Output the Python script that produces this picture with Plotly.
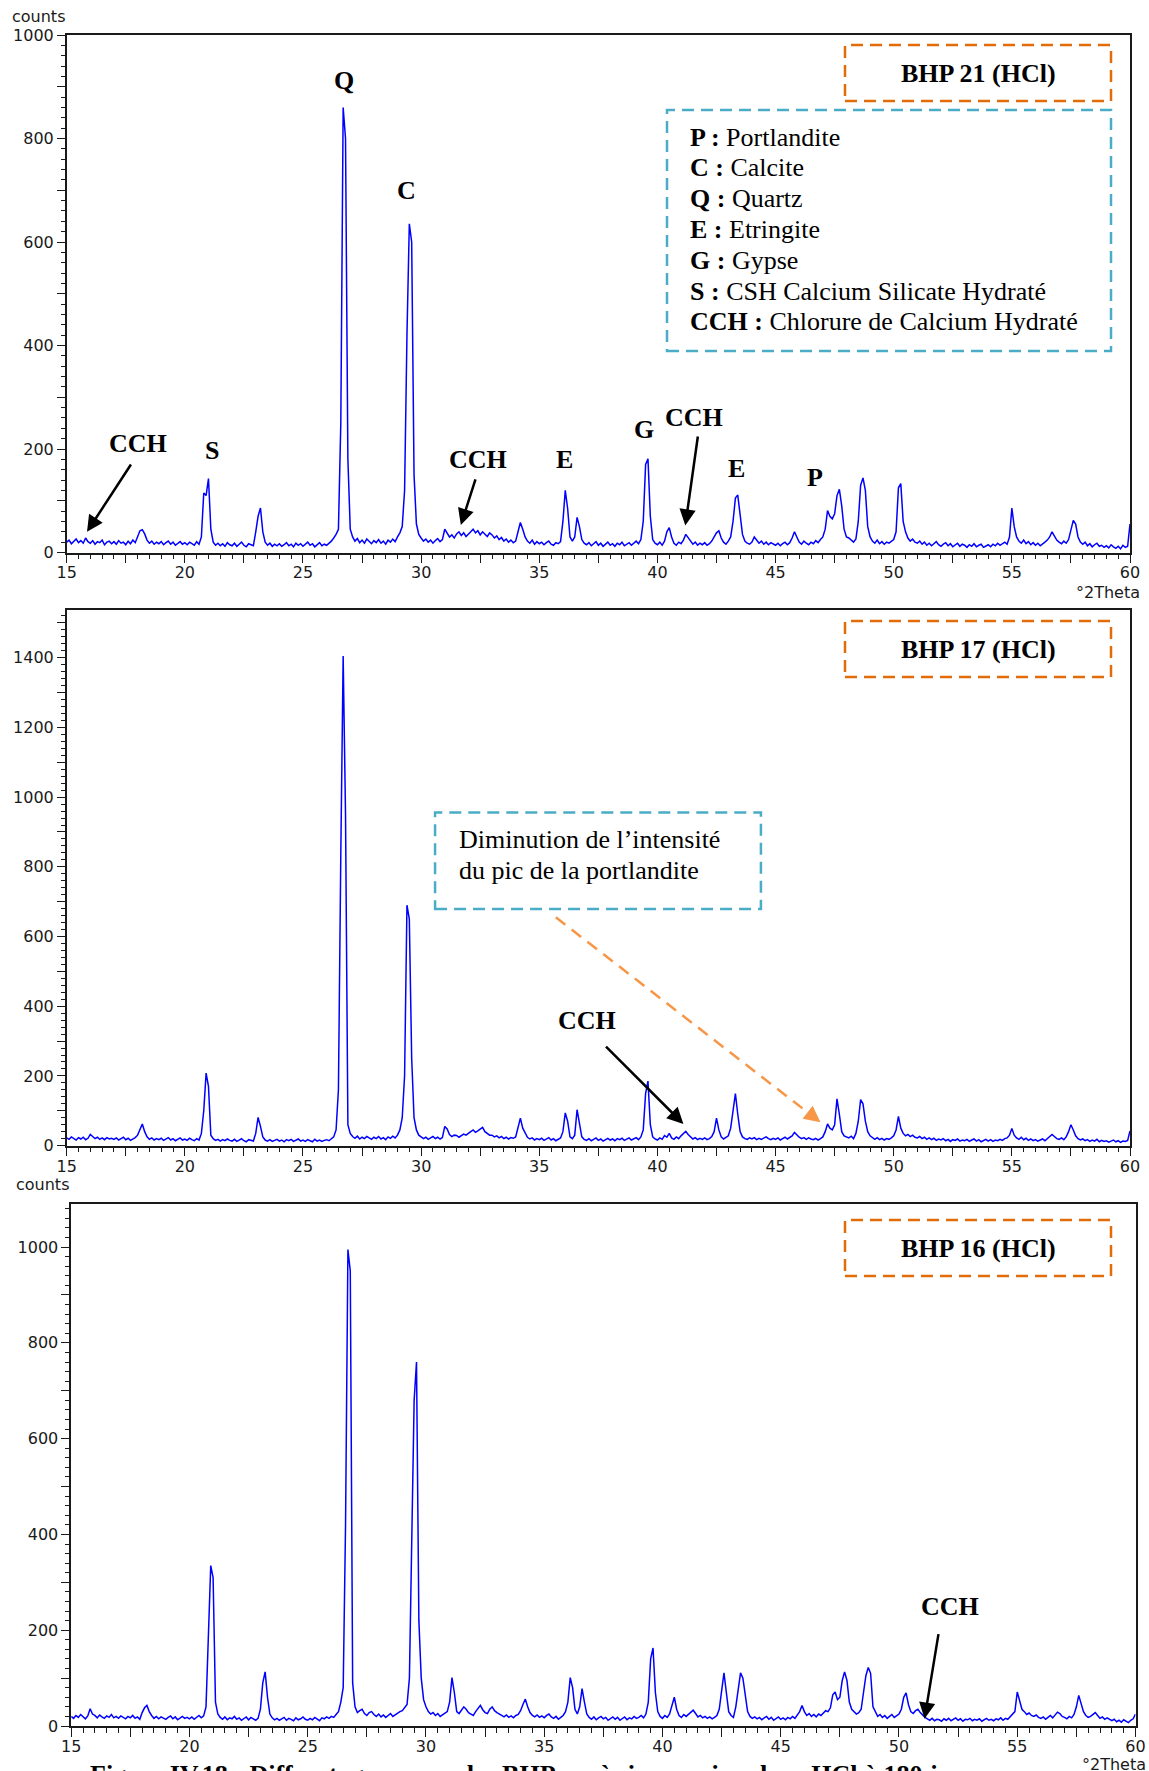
import plotly.graph_objects as go

# ---------------------------------------------------------------------------
# XRD patterns (counts) sampled every 0.1 deg 2-theta from 15.0 to 60.0
# one row = one degree (n.0 ... n.9)
# ---------------------------------------------------------------------------
two_theta_start = 15.0
two_theta_step = 0.1

bhp21_counts = [
    20, 24, 17, 22, 26, 19, 23, 18, 28, 21,        # 15
    18, 23, 16, 21, 19, 24, 15, 20, 22, 17,        # 16
    21, 16, 23, 18, 20, 15, 22, 17, 24, 19,        # 17
    30, 42, 44, 36, 24, 18, 22, 16, 20, 17,        # 18
    21, 15, 19, 22, 16, 20, 14, 18, 21, 16,        # 19
    19, 15, 20, 17, 14, 21, 16, 30, 115, 110,      # 20
    143, 45, 20, 14, 18, 13, 17, 12, 19, 15,       # 21
    13, 18, 12, 16, 20, 14, 11, 17, 15, 13,        # 22
    40, 70, 86, 40, 20, 14, 18, 12, 16, 13,        # 23
    17, 12, 15, 19, 13, 16, 11, 18, 14, 17,        # 24
    12, 16, 20, 14, 17, 11, 15, 19, 13, 16,        # 25
    14, 18, 22, 28, 35, 45, 250, 860, 800, 180,    # 26
    45, 30, 22, 27, 19, 24, 18, 26, 21, 17,        # 27
    23, 19, 25, 18, 22, 16, 24, 20, 26, 21,        # 28
    30, 38, 50, 120, 420, 635, 600, 150, 55, 35,   # 29
    28, 22, 26, 20, 24, 18, 23, 27, 21, 25,        # 30
    45, 38, 30, 34, 28, 36, 40, 33, 38, 31,        # 31
    35, 40, 45, 38, 42, 34, 40, 36, 31, 38,        # 32
    34, 28, 32, 25, 29, 22, 26, 20, 24, 19,        # 33
    22, 40, 58, 45, 30, 22, 18, 24, 16, 21,        # 34
    17, 20, 15, 19, 22, 16, 14, 19, 17, 21,        # 35
    60, 120, 85, 30, 22, 30, 68, 50, 25, 18,       # 36
    15, 19, 13, 17, 21, 14, 18, 12, 16, 20,        # 37
    14, 17, 12, 18, 15, 20, 13, 16, 19, 14,        # 38
    18, 22, 17, 25, 60, 170, 181, 70, 25, 18,      # 39
    15, 20, 14, 22, 40, 48, 30, 18, 14, 20,        # 40
    17, 24, 35, 28, 22, 16, 20, 14, 18, 15,        # 41
    19, 14, 17, 22, 30, 38, 42, 28, 20, 16,        # 42
    22, 30, 60, 105, 111, 70, 35, 22, 18, 16,      # 43
    20, 30, 24, 18, 22, 16, 20, 15, 19, 17,        # 44
    14, 18, 13, 17, 20, 15, 19, 28, 40, 30,        # 45
    20, 16, 22, 18, 15, 20, 17, 23, 19, 25,        # 46
    30, 45, 81, 70, 65, 75, 110, 122, 90, 45,      # 47
    30, 28, 24, 20, 26, 60, 130, 144, 120, 50,     # 48
    30, 22, 18, 24, 17, 21, 16, 20, 18, 22,        # 49
    25, 40, 125, 133, 60, 40, 28, 22, 26, 20,      # 50
    18, 22, 16, 20, 14, 18, 13, 17, 21, 15,        # 51
    12, 16, 19, 13, 17, 11, 15, 18, 12, 16,        # 52
    14, 10, 15, 12, 17, 11, 14, 16, 10, 13,        # 53
    15, 11, 16, 13, 18, 14, 17, 20, 16, 30,        # 54
    86, 50, 30, 22, 18, 24, 17, 21, 15, 19,        # 55
    14, 18, 13, 16, 20, 24, 30, 40, 32, 24,        # 56
    20, 17, 22, 18, 25, 45, 62, 55, 30, 20,        # 57
    16, 20, 13, 17, 11, 15, 18, 12, 14, 10,        # 58
    13, 9, 15, 11, 8, 12, 7, 14, 10, 12,           # 59
    55,                                            # 60
]

bhp17_counts = [
    22, 18, 25, 20, 16, 23, 19, 24, 17, 21,        # 15
    32, 26, 20, 24, 18, 22, 17, 23, 19, 21,        # 16
    18, 22, 16, 20, 24, 17, 21, 15, 19, 23,        # 17
    30, 45, 62, 40, 25, 18, 22, 16, 20, 17,        # 18
    21, 15, 19, 23, 16, 20, 14, 18, 22, 16,        # 19
    19, 15, 21, 17, 14, 20, 16, 35, 100, 208,      # 20
    170, 30, 20, 15, 18, 13, 17, 14, 19, 15,       # 21
    13, 18, 12, 16, 20, 14, 11, 17, 15, 13,        # 22
    35, 81, 55, 25, 16, 13, 17, 12, 15, 18,        # 23
    13, 16, 11, 17, 14, 18, 12, 15, 19, 13,        # 24
    16, 12, 17, 14, 11, 18, 13, 16, 12, 15,        # 25
    17, 14, 20, 25, 45, 160, 835, 1405, 950, 60,   # 26
    35, 26, 21, 27, 19, 24, 20, 26, 22, 18,        # 27
    24, 20, 26, 19, 23, 17, 25, 21, 27, 22,        # 28
    30, 45, 80, 200, 690, 650, 250, 80, 45, 30,    # 29
    25, 20, 24, 18, 22, 26, 20, 24, 19, 23,        # 30
    55, 48, 32, 26, 30, 29, 24, 28, 33, 30,        # 31
    36, 40, 45, 38, 42, 48, 52, 40, 34, 30,        # 32
    30, 25, 28, 22, 26, 20, 24, 19, 23, 21,        # 33
    25, 50, 79, 50, 35, 24, 19, 22, 16, 20,        # 34
    17, 21, 15, 19, 23, 16, 20, 14, 18, 22,        # 35
    40, 94, 70, 25, 20, 30, 103, 60, 25, 18,       # 36
    15, 20, 14, 18, 22, 15, 19, 13, 17, 21,        # 37
    16, 19, 14, 20, 17, 21, 15, 18, 22, 16,        # 38
    19, 23, 17, 25, 45, 150, 185, 60, 25, 19,      # 39
    16, 22, 18, 29, 24, 35, 22, 18, 25, 20,        # 40
    28, 35, 41, 32, 25, 19, 23, 17, 21, 18,        # 41
    22, 17, 20, 26, 40, 79, 45, 25, 19, 23,        # 42
    28, 50, 100, 149, 90, 40, 25, 20, 18, 22,      # 43
    19, 23, 17, 21, 18, 22, 25, 20, 17, 21,        # 44
    18, 22, 16, 20, 24, 19, 23, 28, 38, 30,        # 45
    24, 20, 23, 18, 22, 19, 17, 21, 16, 20,        # 46
    25, 40, 62, 50, 45, 60, 134, 90, 40, 28,       # 47
    25, 22, 27, 20, 35, 70, 132, 120, 70, 40,      # 48
    28, 22, 18, 23, 17, 21, 16, 20, 18, 22,        # 49
    28, 45, 84, 50, 35, 28, 32, 26, 30, 24,        # 50
    22, 26, 20, 24, 18, 22, 17, 21, 15, 19,        # 51
    16, 20, 14, 18, 12, 17, 15, 19, 13, 16,        # 52
    14, 18, 12, 16, 19, 13, 17, 11, 15, 18,        # 53
    13, 17, 12, 16, 14, 18, 15, 20, 22, 30,        # 54
    49, 30, 22, 18, 24, 17, 21, 15, 19, 14,        # 55
    17, 13, 16, 19, 14, 20, 25, 32, 26, 20,        # 56
    18, 22, 17, 25, 40, 60, 45, 28, 20, 16,        # 57
    19, 14, 17, 12, 16, 13, 18, 11, 15, 12,        # 58
    14, 10, 13, 16, 11, 14, 9, 13, 12, 15,         # 59
    42,                                            # 60
]

bhp16_counts = [
    20, 16, 22, 18, 24, 19, 15, 21, 36, 25,        # 15
    22, 17, 23, 19, 16, 21, 18, 24, 17, 20,        # 16
    16, 21, 18, 15, 20, 17, 22, 16, 19, 14,        # 17
    28, 38, 43, 30, 22, 16, 20, 15, 19, 17,        # 18
    14, 18, 21, 15, 19, 13, 17, 20, 16, 18,        # 19
    15, 19, 14, 18, 22, 17, 21, 40, 200, 335,      # 20
    310, 50, 25, 18, 14, 19, 13, 17, 15, 20,       # 21
    14, 17, 12, 16, 19, 13, 18, 15, 12, 16,        # 22
    35, 90, 113, 60, 25, 17, 13, 16, 12, 15,       # 23
    18, 12, 16, 14, 11, 17, 13, 15, 19, 14,        # 24
    12, 16, 13, 18, 14, 11, 17, 15, 19, 16,        # 25
    20, 18, 24, 30, 50, 80, 420, 995, 950, 90,     # 26
    40, 28, 32, 35, 26, 22, 28, 30, 24, 20,        # 27
    25, 19, 23, 18, 22, 26, 20, 24, 28, 30,        # 28
    32, 38, 45, 100, 380, 680, 760, 220, 100, 55,  # 29
    40, 30, 25, 28, 22, 26, 20, 24, 27, 30,        # 30
    50, 101, 70, 30, 26, 32, 40, 35, 28, 25,       # 31
    22, 30, 36, 43, 34, 28, 26, 35, 40, 32,        # 32
    28, 24, 22, 19, 23, 18, 21, 17, 22, 24,        # 33
    32, 45, 56, 40, 28, 22, 19, 23, 18, 21,        # 34
    17, 22, 25, 19, 16, 20, 14, 18, 22, 30,        # 35
    50, 101, 80, 35, 25, 40, 78, 50, 25, 18,       # 36
    14, 19, 13, 17, 20, 15, 18, 12, 16, 19,        # 37
    14, 18, 12, 16, 19, 13, 17, 15, 20, 16,        # 38
    18, 22, 17, 25, 50, 140, 163, 70, 30, 20,      # 39
    16, 22, 18, 25, 45, 60, 35, 22, 18, 24,        # 40
    20, 25, 28, 33, 26, 19, 22, 17, 20, 16,        # 41
    19, 15, 18, 22, 35, 70, 111, 70, 30, 22,       # 42
    18, 40, 80, 111, 100, 60, 30, 20, 16, 19,      # 43
    15, 18, 13, 17, 20, 14, 18, 12, 16, 19,        # 44
    14, 17, 13, 18, 15, 20, 16, 22, 30, 43,        # 45
    30, 22, 26, 20, 24, 19, 25, 22, 28, 32,        # 46
    30, 38, 65, 71, 55, 60, 95, 113, 95, 50,       # 47
    35, 30, 25, 28, 35, 70, 105, 122, 110, 40,     # 48
    28, 20, 24, 18, 22, 16, 20, 24, 18, 22,        # 49
    25, 35, 60, 69, 45, 30, 26, 32, 35, 28,        # 50
    22, 18, 15, 12, 16, 11, 14, 13, 10, 15,        # 51
    12, 16, 11, 14, 17, 12, 15, 10, 14, 13,        # 52
    16, 11, 14, 12, 15, 10, 13, 16, 12, 14,        # 53
    11, 15, 13, 17, 12, 16, 14, 19, 24, 30,        # 54
    71, 50, 35, 30, 24, 27, 22, 20, 23, 18,        # 55
    16, 19, 14, 18, 22, 17, 24, 29, 26, 20,        # 56
    18, 15, 20, 17, 24, 40, 64, 45, 30, 22,        # 57
    18, 20, 25, 28, 22, 16, 19, 14, 17, 13,        # 58
    11, 14, 9, 12, 8, 13, 10, 7, 12, 15,           # 59
    25,                                            # 60
]

assert len(bhp21_counts) == len(bhp17_counts) == len(bhp16_counts) == 451

two_theta = [round(two_theta_start + i * two_theta_step, 1) for i in range(len(bhp21_counts))]

sample_names = ["BHP 21 (HCl)", "BHP 17 (HCl)", "BHP 16 (HCl)"]
y_max = [1000, 1537, 1090]

x_tick_values = [15 + 2.5 * i for i in range(19)]
x_tick_labels = [str(int(v)) if v % 5 == 0 else "" for v in x_tick_values]

phase_legend = [
    ("P :", "Portlandite"),
    ("C :", "Calcite"),
    ("Q :", "Quartz"),
    ("E :", "Etringite"),
    ("G :", "Gypse"),
    ("S :", "CSH Calcium Silicate Hydraté"),
    ("CCH :", "Chlorure de Calcium Hydraté"),
]

# ---------------------------------------------------------------------------
# page geometry (pixels)
# ---------------------------------------------------------------------------
W, H = 1149, 1771
panel_px = [  # left, right, top, bottom
    (66.7, 1130.0, 35.0, 552.5),
    (66.7, 1130.0, 610.0, 1145.6),
    (71.2, 1135.5, 1204.0, 1726.0),
]

def px_x(v):
    return v / W

def px_y(v):
    return 1 - v / H

INK = "#1a1a1a"
TRACE_BLUE = "#0000FF"
BOX_ORANGE = "#E36C0A"
BOX_BLUE = "#4BACC6"
ARROW_ORANGE = "#F79646"
SERIF = "Liberation Serif"
SANS = "DejaVu Sans"

fig = go.Figure()
series = [bhp21_counts, bhp17_counts, bhp16_counts]

for i, counts in enumerate(series):
    n = "" if i == 0 else str(i + 1)
    fig.add_trace(go.Scatter(
        x=two_theta, y=counts, mode="lines",
        line=dict(color=TRACE_BLUE, width=1.5),
        xaxis="x" + n, yaxis="y" + n, showlegend=False, hoverinfo="x+y",
    ))

    left, right, top, bottom = panel_px[i]
    ymax = y_max[i]
    y_ticks = list(range(0, ymax + 1, 100))
    y_labels = [str(v) if v % 200 == 0 else "" for v in y_ticks]

    fig.layout["xaxis" + n] = dict(
        domain=[px_x(left), px_x(right)], anchor="y" + n, range=[15, 60],
        tickmode="array", tickvals=x_tick_values, ticktext=x_tick_labels,
        ticks="outside", ticklen=9, tickwidth=1.3, tickcolor=INK,
        ticklabelstandoff=-4,
        minor=dict(tickmode="linear", tick0=15, dtick=0.5, ticks="outside",
                   ticklen=5, tickwidth=1, tickcolor=INK),
        showline=True, linecolor=INK, linewidth=1.5, mirror=True,
        showgrid=False, zeroline=False, automargin=False,
        tickfont=dict(family=SANS, size=16, color=INK),
    )
    fig.layout["yaxis" + n] = dict(
        domain=[px_y(bottom), px_y(top)], anchor="x" + n, range=[0, ymax],
        tickmode="array", tickvals=y_ticks, ticktext=y_labels,
        ticks="outside", ticklen=8, tickwidth=1.3, tickcolor=INK,
        minor=dict(tickmode="linear", tick0=0, dtick=20, ticks="outside",
                   ticklen=4, tickwidth=1, tickcolor=INK),
        showline=True, linecolor=INK, linewidth=1.5, mirror=True,
        showgrid=False, zeroline=False, automargin=False,
        tickfont=dict(family=SANS, size=16, color=INK),
    )

shapes = []
annotations = []

def paper_box(x0, x1, y0, y1, color):
    shapes.append(dict(type="rect", xref="paper", yref="paper",
                       x0=px_x(x0), x1=px_x(x1), y0=px_y(y1), y1=px_y(y0),
                       line=dict(color=color, width=2.5, dash="12px,7px"),
                       fillcolor="rgba(0,0,0,0)"))

def paper_text(text, x, y, size=26, xanchor="center", color="black", family=SERIF):
    annotations.append(dict(text=text, xref="paper", yref="paper",
                            x=px_x(x), y=px_y(y), xanchor=xanchor, yanchor="middle",
                            showarrow=False, font=dict(family=family, size=size, color=color)))

def peak_label(text, x, y, panel):
    n = "" if panel == 0 else str(panel + 1)
    annotations.append(dict(text="<b>%s</b>" % text, x=x, y=y, xref="x" + n, yref="y" + n,
                            showarrow=False, font=dict(family=SERIF, size=26, color="black")))

def pointer(tail, head, panel, color="black"):
    n = "" if panel == 0 else str(panel + 1)
    annotations.append(dict(text="", x=head[0], y=head[1], ax=tail[0], ay=tail[1],
                            xref="x" + n, yref="y" + n, axref="x" + n, ayref="y" + n,
                            showarrow=True, arrowhead=2, arrowsize=1.3, arrowwidth=2.5,
                            arrowcolor=color, standoff=0, startstandoff=0))

# sample name boxes
for i, name in enumerate(sample_names):
    top_px = [45, 621, 1220][i]
    paper_box(845, 1111, top_px, top_px + 56, BOX_ORANGE)
    paper_text("<b>%s</b>" % name, 978, top_px + 28)

# phase key (top panel)
paper_box(667, 1111, 110, 351, BOX_BLUE)
for k, (code, phase) in enumerate(phase_legend):
    paper_text("<b>%s</b> %s" % (code, phase), 688, 137 + 30.8 * k, xanchor="left")

# axis captions
paper_text("counts", 38, 16, size=16, family=SANS, color=INK)
paper_text("counts", 42, 1184, size=16, family=SANS, color=INK)
paper_text("°2Theta", 1108, 592, size=16, family=SANS, color=INK)
paper_text("°2Theta", 1114, 1764, size=16, family=SANS, color=INK)

# peak identification - BHP 21
peak_label("Q", 26.75, 913, 0)
peak_label("C", 29.36, 700, 0)
peak_label("CCH", 18.02, 210, 0)
pointer((17.76, 173), (15.86, 40), 0)
peak_label("S", 21.15, 198, 0)
peak_label("CCH", 32.41, 179, 0)
pointer((32.32, 144), (31.68, 53), 0)
peak_label("E", 36.05, 179, 0)
peak_label("G", 39.43, 237, 0)
peak_label("CCH", 41.55, 260, 0)
pointer((41.72, 227), (41.18, 52), 0)
peak_label("E", 43.33, 163, 0)
peak_label("P", 46.67, 144, 0)

# BHP 17: CCH pointer and portlandite note
peak_label("CCH", 37.02, 360, 1)
pointer((37.76, 288), (41.1, 62), 1)
shapes.append(dict(type="rect", xref="x2", yref="y2", x0=30.59, x1=44.38, y0=679, y1=956,
                   line=dict(color=BOX_BLUE, width=2.5, dash="12px,7px"),
                   fillcolor="rgba(0,0,0,0)"))
for text, yv in (("Diminution de l’intensité", 877), ("du pic de la portlandite", 790)):
    annotations.append(dict(text=text, x=31.52, y=yv, xref="x2", yref="y2",
                            xanchor="left", yanchor="middle", showarrow=False,
                            font=dict(family=SERIF, size=26, color="black")))
shapes.append(dict(type="line", xref="x2", yref="y2", x0=35.7, y0=655, x1=46.46, y1=90,
                   line=dict(color=ARROW_ORANGE, width=2.5, dash="12px,8px")))
annotations.append(dict(text="", x=46.9, y=67, xref="x2", yref="y2", ax=-12.6, ay=-9.8,
                        showarrow=True, arrowhead=2, arrowsize=1.3, arrowwidth=2.5,
                        arrowcolor=ARROW_ORANGE, standoff=0))

# BHP 16: CCH pointer
peak_label("CCH", 52.17, 250, 2)
pointer((51.68, 195), (51.08, 15), 2)

# figure caption (runs off the bottom of the page)
annotations.append(dict(text="<b>Figure IV.18 : Diffractogrammes des BHP après immersion dans HCl à 180 jours</b>",
                        xref="paper", yref="paper", x=px_x(88), y=px_y(1775),
                        xanchor="left", yanchor="middle", showarrow=False,
                        font=dict(family=SERIF, size=26, color="black")))

fig.update_layout(
    width=W, height=H,
    margin=dict(l=0, r=0, t=0, b=0),
    paper_bgcolor="white", plot_bgcolor="white",
    shapes=shapes, annotations=annotations,
    showlegend=False,
)

fig.write_html("out.html")
